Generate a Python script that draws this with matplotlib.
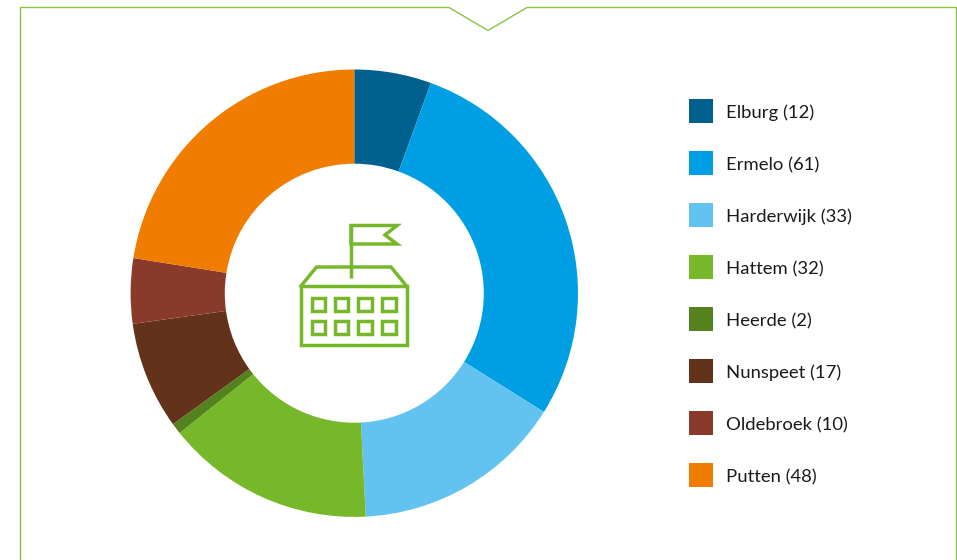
import matplotlib
matplotlib.use("Agg")
import matplotlib.pyplot as plt
from matplotlib.patches import Rectangle, Polygon

plt.rcParams['font.family'] = ['Lato', 'DejaVu Sans']

W, H = 957, 560
municipalities = ["Elburg", "Ermelo", "Harderwijk", "Hattem", "Heerde", "Nunspeet", "Oldebroek", "Putten"]
counts = [12, 61, 33, 32, 2, 17, 10, 48]
# slice sizes as measured on the picture, they differ a bit from the labels
slice_sizes = [11.95, 60.95, 32.85, 32.4, 1.7, 16.7, 10.1, 48.35]
colors = ["#00618f", "#009fe3", "#63c3f0", "#76b82a", "#54821e", "#63321a", "#8a3a2a", "#f07d00"]

GREEN = "#76b82a"
FRAME = "#86c440"

fig = plt.figure(figsize=(W / 100, H / 100), dpi=100, facecolor="white")

# overlay in pixel coords, y pointing down like the screenshot
bg = fig.add_axes([0, 0, 1, 1])
bg.set_xlim(0, W)
bg.set_ylim(H, 0)
bg.axis("off")

# frame with the notch on top, open at the bottom
bg.plot([20.5, 20.5, 449, 488, 527, 956.5, 956.5], [H, 7.5, 7.5, 30.5, 7.5, 7.5, H],
        color=FRAME, lw=1.0, solid_joinstyle="miter")

# donut
cx, cy, R = 354.3, 293.2, 223.7
ax = fig.add_axes([(cx - R) / W, 1 - (cy + R) / H, 2 * R / W, 2 * R / H])
ax.pie(slice_sizes, colors=colors, startangle=90, counterclock=False,
       wedgeprops={"width": 94.2 / R, "linewidth": 0})
ax.set_xlim(-1, 1)
ax.set_ylim(-1, 1)
ax.patch.set_visible(False)

# school icon
icon = fig.add_axes([0, 0, 1, 1])
icon.set_xlim(0, W)
icon.set_ylim(H, 0)
icon.axis("off")
lw = 2.5
icon.add_patch(Rectangle((301, 286), 105.5, 59, fill=False, ec=GREEN, lw=lw))
icon.plot([301, 316.5, 391, 406.5], [286, 267, 267, 286], color=GREEN, lw=lw, solid_joinstyle="miter")
icon.plot([351, 351], [278, 225], color=GREEN, lw=lw, solid_capstyle="butt")
icon.add_patch(Polygon([(351, 225.5), (397, 225.5), (385, 235), (397, 244), (351, 244)],
                       closed=True, fill=False, ec=GREEN, lw=lw))
for wx in [311.7, 335, 358.3, 382.3]:
    for wy in [297.7, 320.7]:
        icon.add_patch(Rectangle((wx, wy), 13.4, 13.4, fill=False, ec=GREEN, lw=lw))

# legend
for i, (name, n, c) in enumerate(zip(municipalities, counts, colors)):
    icon.add_patch(Rectangle((689, 99 + 52 * i), 24, 24, fc=c, ec="none"))
    icon.text(726.5, 118 + 52 * i, f"{name} ({n})", fontsize=13.3, color="#1a1a1a", va="baseline", ha="left")

fig.savefig("out.png", dpi=100, facecolor="white")
